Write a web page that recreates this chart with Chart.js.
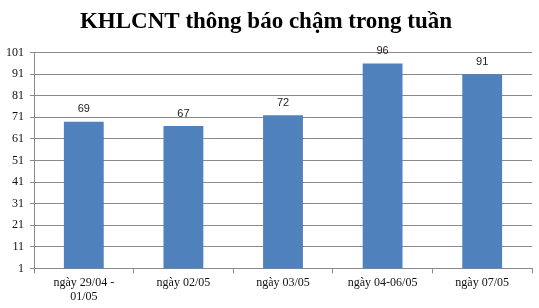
<!DOCTYPE html>
<html>
<head>
<meta charset="utf-8">
<script src="https://cdn.jsdelivr.net/npm/chart.js@4/dist/chart.umd.min.js"></script>
<style>
    html, body { margin: 0; padding: 0; background: #fff; }
    #wrap { width: 539px; height: 308px; }
</style>
</head>
<body>
<div id="wrap"><canvas id="chart"></canvas></div>
<script>
const categories = [['ngày 29/04 -', '01/05'], 'ngày 02/05', 'ngày 03/05', 'ngày 04-06/05', 'ngày 07/05'];
const lateNotices = [69, 67, 72, 96, 91];
const yTicks = [1, 11, 21, 31, 41, 51, 61, 71, 81, 91, 101];

const gridColor = '#8a8a8a';

// draw the value above each bar
const barValues = {
    id: 'barValues',
    afterDatasetsDraw(chart) {
        const ctx = chart.ctx;
        const meta = chart.getDatasetMeta(0);
        ctx.save();
        ctx.font = '11px "Liberation Sans", Arial, sans-serif';
        ctx.fillStyle = '#222';
        ctx.textAlign = 'center';
        ctx.textBaseline = 'bottom';
        meta.data.forEach((bar, i) => {
            ctx.fillText(lateNotices[i], bar.x, bar.y - 7);
        });
        ctx.restore();
    }
};

const ctx = document.getElementById('chart').getContext('2d');
new Chart(ctx, {
    type: 'bar',
    data: {
        labels: categories,
        datasets: [{
            data: lateNotices,
            backgroundColor: '#4f81bd',
            barPercentage: 0.8,
            categoryPercentage: 0.5
        }]
    },
    options: {
        responsive: true,
        maintainAspectRatio: false,
        animation: false,
        layout: {
            padding: { left: 0, right: 7, top: 0, bottom: 1 }
        },
        scales: {
            x: {
                grid: {
                    offset: true,
                    drawOnChartArea: false,
                    drawTicks: true,
                    tickLength: 5,
                    color: gridColor
                },
                border: { display: true, color: gridColor },
                ticks: {
                    color: '#111',
                    padding: 3,
                    maxRotation: 0,
                    font: { family: '"Liberation Serif", "Times New Roman", serif', size: 12, lineHeight: 1.15 }
                }
            },
            y: {
                min: 1,
                max: 101,
                afterBuildTicks: (axis) => {
                    axis.ticks = yTicks.map(v => ({ value: v }));
                },
                grid: {
                    color: gridColor,
                    tickLength: 4
                },
                border: { display: true, color: gridColor },
                ticks: {
                    color: '#111',
                    padding: 6,
                    font: { family: '"Liberation Serif", "Times New Roman", serif', size: 12 }
                }
            }
        },
        plugins: {
            legend: { display: false },
            tooltip: { enabled: false },
            title: {
                display: true,
                text: 'KHLCNT thông báo chậm trong tuần',
                color: '#000',
                font: { family: '"Liberation Serif", "Times New Roman", serif', size: 23, weight: 'bold' },
                padding: { top: 8, bottom: 17 }
            }
        }
    },
    plugins: [barValues]
});
</script>
</body>
</html>
